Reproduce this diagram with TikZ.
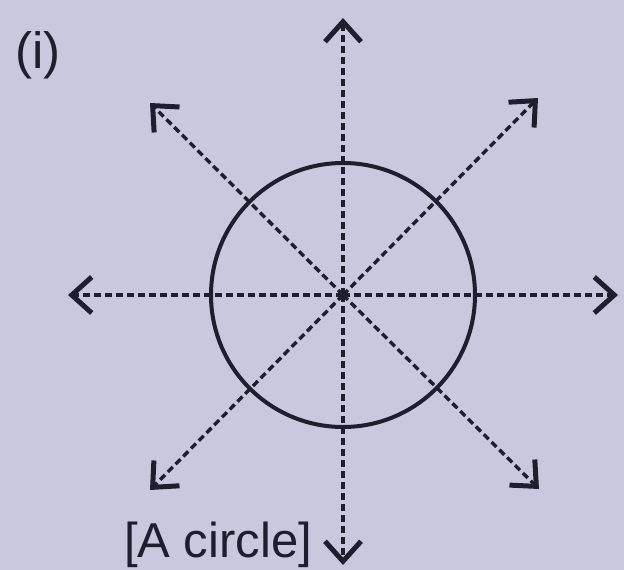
\documentclass[tikz,border=0pt]{standalone}
\usepackage{fontspec}
\setmainfont{Liberation Sans}
\usetikzlibrary{arrows.meta}
\definecolor{bg}{RGB}{201,200,222}
\definecolor{ink}{RGB}{30,30,46}
\begin{document}
\begin{tikzpicture}[x=1pt,y=-1pt,
  ray/.style={ink,line width=3.4pt,dash pattern=on 7pt off 4pt,
    -{Straight Barb[length=20pt,width=36pt,line width=5pt]}},
  lbl/.style={ink,inner sep=0pt}]
\fill[bg] (0,0) rectangle (624,570);
\useasboundingbox (0,0) rectangle (624,570);
\coordinate (c) at (343,295);
\coordinate (t) at (343,18);
\coordinate (b) at (343,565);
\coordinate (l) at (68,295);
\coordinate (r) at (618,295);
\coordinate (ul) at (150,103);
\coordinate (ur) at (538,98);
\coordinate (dl) at (150,490);
\coordinate (dr) at (539,489);
\draw[ink,line width=4pt] (c) circle (132);
\foreach \p in {t,b,l,r,ul,ur,dl,dr} \draw[ray] (c) -- (\p);
\fill[ink] (c) circle (5);
\node[lbl,font=\fontsize{51}{51}\selectfont] (n1) at (38,55) {(i)};
\node[lbl,font=\fontsize{49}{49}\selectfont,anchor=base] (n2) at (218,557) {[A circle]};
\end{tikzpicture}
\end{document}
